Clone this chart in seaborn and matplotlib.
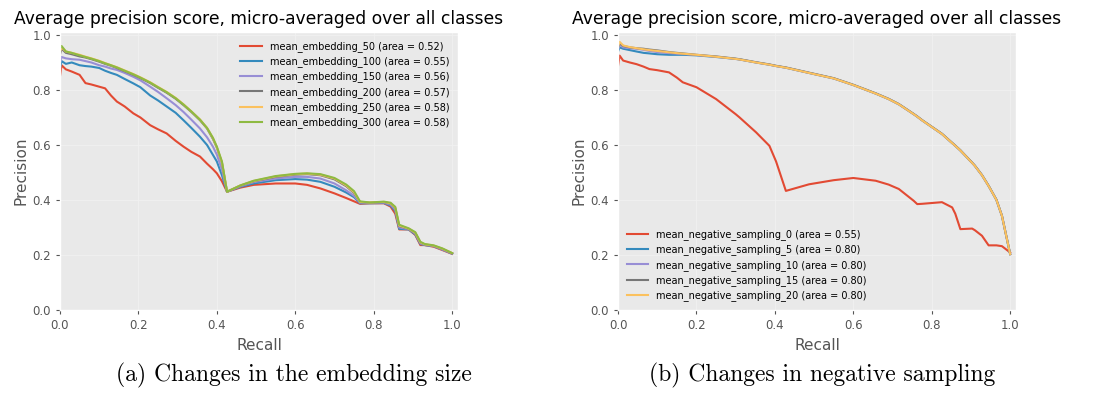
import pandas as pd
import seaborn as sns
import matplotlib.pyplot as plt

# (a) embedding size: shared recall grid, one precision list per run
recall_a = [0.0, 0.004, 0.015, 0.03, 0.05, 0.065, 0.08, 0.1, 0.115, 0.13,
            0.145, 0.165, 0.187, 0.205, 0.23, 0.25, 0.272, 0.295, 0.315, 0.335,
            0.357, 0.375, 0.39, 0.40, 0.413, 0.426, 0.46, 0.494, 0.55, 0.6,
            0.63, 0.664, 0.70, 0.73, 0.75, 0.765, 0.79, 0.826, 0.843, 0.855,
            0.865, 0.889, 0.906, 0.919, 0.93, 0.953, 0.975, 1.0]
emb_50 = [0.85, 0.89, 0.875, 0.867, 0.855, 0.825, 0.82, 0.812, 0.806, 0.78,
          0.758, 0.74, 0.715, 0.70, 0.672, 0.657, 0.642, 0.615, 0.594, 0.575,
          0.558, 0.532, 0.512, 0.497, 0.468, 0.43, 0.445, 0.455, 0.46, 0.46,
          0.455, 0.442, 0.424, 0.407, 0.395, 0.386, 0.388, 0.388, 0.376, 0.35,
          0.293, 0.293, 0.273, 0.236, 0.236, 0.23, 0.218, 0.204]
emb_100 = [0.88, 0.905, 0.895, 0.9, 0.89, 0.887, 0.885, 0.88, 0.87, 0.862,
           0.855, 0.84, 0.824, 0.81, 0.78, 0.762, 0.74, 0.717, 0.69, 0.662,
           0.63, 0.60, 0.564, 0.54, 0.49, 0.43, 0.448, 0.46, 0.472, 0.476,
           0.474, 0.466, 0.448, 0.427, 0.41, 0.388, 0.388, 0.389, 0.38, 0.36,
           0.295, 0.293, 0.275, 0.24, 0.236, 0.232, 0.22, 0.205]
emb_150 = [0.9, 0.92, 0.915, 0.912, 0.91, 0.905, 0.9, 0.89, 0.885, 0.878,
           0.873, 0.862, 0.848, 0.835, 0.812, 0.793, 0.77, 0.745, 0.72, 0.692,
           0.66, 0.628, 0.594, 0.565, 0.51, 0.43, 0.45, 0.465, 0.478, 0.484,
           0.484, 0.478, 0.46, 0.435, 0.415, 0.39, 0.389, 0.39, 0.383, 0.365,
           0.3, 0.294, 0.278, 0.242, 0.237, 0.232, 0.22, 0.205]
emb_200 = [0.93, 0.95, 0.935, 0.93, 0.922, 0.918, 0.912, 0.903, 0.895, 0.888,
           0.88, 0.868, 0.855, 0.843, 0.825, 0.808, 0.79, 0.768, 0.745, 0.72,
           0.69, 0.66, 0.622, 0.59, 0.535, 0.43, 0.452, 0.468, 0.484, 0.492,
           0.494, 0.49, 0.475, 0.45, 0.425, 0.392, 0.39, 0.392, 0.387, 0.37,
           0.305, 0.295, 0.28, 0.245, 0.238, 0.233, 0.222, 0.206]
emb_250 = [0.94, 0.955, 0.94, 0.935, 0.928, 0.921, 0.915, 0.906, 0.898, 0.89,
           0.883, 0.871, 0.858, 0.846, 0.828, 0.811, 0.793, 0.771, 0.748, 0.722,
           0.693, 0.662, 0.625, 0.592, 0.537, 0.43, 0.453, 0.469, 0.486, 0.494,
           0.496, 0.492, 0.478, 0.453, 0.428, 0.393, 0.391, 0.393, 0.388, 0.372,
           0.307, 0.296, 0.281, 0.246, 0.239, 0.234, 0.223, 0.207]
emb_300 = [0.95, 0.96, 0.94, 0.935, 0.926, 0.92, 0.914, 0.905, 0.897, 0.89,
           0.882, 0.87, 0.857, 0.845, 0.827, 0.81, 0.792, 0.77, 0.747, 0.722,
           0.692, 0.662, 0.626, 0.594, 0.54, 0.43, 0.453, 0.47, 0.487, 0.495,
           0.497, 0.494, 0.48, 0.456, 0.432, 0.395, 0.391, 0.394, 0.39, 0.375,
           0.31, 0.297, 0.283, 0.248, 0.24, 0.235, 0.224, 0.207]
labels_a = ["mean_embedding_50 (area = 0.52)", "mean_embedding_100 (area = 0.55)",
            "mean_embedding_150 (area = 0.56)", "mean_embedding_200 (area = 0.57)",
            "mean_embedding_250 (area = 0.58)", "mean_embedding_300 (area = 0.58)"]

# (b) negative sampling
recall_b = [0.0, 0.004, 0.013, 0.03, 0.047, 0.065, 0.08, 0.1, 0.13, 0.15,
            0.165, 0.2, 0.25, 0.3, 0.31, 0.352, 0.386, 0.403, 0.428, 0.487,
            0.55, 0.6, 0.657, 0.69, 0.716, 0.754, 0.763, 0.775, 0.826, 0.852,
            0.86, 0.873, 0.903, 0.91, 0.928, 0.945, 0.965, 0.979, 1.0]
neg_0 = [0.888, 0.925, 0.907, 0.9, 0.894, 0.885, 0.876, 0.872, 0.864, 0.845,
         0.828, 0.81, 0.767, 0.712, 0.70, 0.646, 0.597, 0.54, 0.433, 0.457,
         0.472, 0.48, 0.47, 0.456, 0.44, 0.397, 0.385, 0.386, 0.392, 0.373,
         0.35, 0.294, 0.296, 0.29, 0.27, 0.235, 0.235, 0.232, 0.209]
neg_5 = [0.94, 0.955, 0.95, 0.945, 0.94, 0.935, 0.933, 0.93, 0.928, 0.928,
         0.928, 0.926, 0.92, 0.913, 0.911, 0.9, 0.892, 0.887, 0.881, 0.862,
         0.842, 0.818, 0.787, 0.767, 0.748, 0.712, 0.703, 0.69, 0.64, 0.607,
         0.597, 0.58, 0.535, 0.524, 0.49, 0.451, 0.4, 0.342, 0.203]
neg_10 = [0.95, 0.965, 0.955, 0.952, 0.95, 0.946, 0.942, 0.938, 0.934, 0.932,
          0.931, 0.927, 0.921, 0.913, 0.911, 0.9, 0.892, 0.887, 0.881, 0.862,
          0.842, 0.818, 0.787, 0.767, 0.748, 0.712, 0.703, 0.69, 0.64, 0.607,
          0.597, 0.58, 0.535, 0.524, 0.49, 0.451, 0.4, 0.342, 0.203]
neg_15 = [0.955, 0.97, 0.96, 0.955, 0.952, 0.95, 0.947, 0.944, 0.938, 0.935,
          0.933, 0.928, 0.922, 0.914, 0.912, 0.901, 0.893, 0.888, 0.882, 0.863,
          0.843, 0.819, 0.788, 0.768, 0.749, 0.713, 0.704, 0.691, 0.641, 0.608,
          0.598, 0.581, 0.536, 0.525, 0.491, 0.452, 0.401, 0.343, 0.203]
neg_20 = [0.96, 0.975, 0.962, 0.956, 0.952, 0.948, 0.945, 0.942, 0.937, 0.934,
          0.932, 0.928, 0.921, 0.913, 0.911, 0.9, 0.892, 0.887, 0.881, 0.862,
          0.842, 0.818, 0.787, 0.767, 0.748, 0.712, 0.703, 0.69, 0.64, 0.607,
          0.597, 0.58, 0.535, 0.524, 0.49, 0.451, 0.4, 0.342, 0.203]
labels_b = ["mean_negative_sampling_0 (area = 0.55)", "mean_negative_sampling_5 (area = 0.80)",
            "mean_negative_sampling_10 (area = 0.80)", "mean_negative_sampling_15 (area = 0.80)",
            "mean_negative_sampling_20 (area = 0.80)"]

colors = ['#E24A33', '#348ABD', '#988ED5', '#777777', '#FBC15E', '#8EBA42']


def long_form(recall, series, labels):
    frames = [pd.DataFrame({'recall': recall, 'precision': s, 'run': lab})
              for s, lab in zip(series, labels)]
    return pd.concat(frames, ignore_index=True)


plt.style.use('ggplot')
plt.rcParams['axes.facecolor'] = '#E9E9E9'
plt.rcParams['grid.color'] = '#F1F1F1'
plt.rcParams['grid.linewidth'] = 0.6

fig = plt.figure(figsize=(11.13, 4.01), dpi=100)
ax_a = fig.add_axes([0.0539, 0.227, 0.3576, 0.6926])
ax_b = fig.add_axes([0.5553, 0.227, 0.3576, 0.6926])

panels = [
    (ax_a, long_form(recall_a, [emb_50, emb_100, emb_150, emb_200, emb_250, emb_300], labels_a),
     labels_a, 'upper right'),
    (ax_b, long_form(recall_b, [neg_0, neg_5, neg_10, neg_15, neg_20], labels_b),
     labels_b, 'lower left'),
]

for ax, df, labels, loc in panels:
    sns.lineplot(data=df, x='recall', y='precision', hue='run', hue_order=labels,
                 palette=colors[:len(labels)], sort=False, estimator=None,
                 linewidth=1.5, ax=ax)
    ax.set_xlim(0, 1.015)
    ax.set_ylim(0, 1.01)
    ax.set_xticks([0.0, 0.2, 0.4, 0.6, 0.8, 1.0])
    ax.set_yticks([0.0, 0.2, 0.4, 0.6, 0.8, 1.0])
    ax.tick_params(labelsize=8.5, length=3)
    ax.set_xlabel('Recall', fontsize=11, labelpad=4)
    ax.set_ylabel('Precision', fontsize=11, labelpad=3)
    ax.set_title('Average precision score, micro-averaged over all classes',
                 fontsize=12.3, pad=6, color='black')
    handles, labs = ax.get_legend_handles_labels()
    ax.legend(handles, labs, loc=loc, fontsize=7, frameon=False,
              labelspacing=0.45, handlelength=2.2)

fig.text(0.264, 0.063, '(a) Changes in the embedding size', family='cmr10',
         fontsize=17, ha='center', va='center')
fig.text(0.739, 0.063, '(b) Changes in negative sampling', family='cmr10',
         fontsize=17, ha='center', va='center')

fig.savefig('out.png', dpi=100)
